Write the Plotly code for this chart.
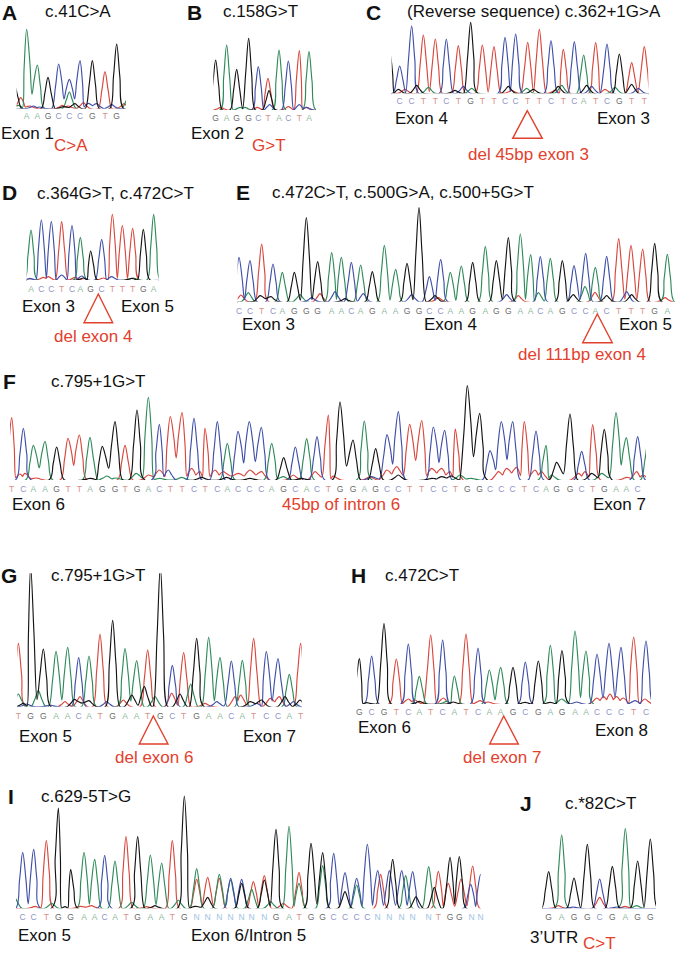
import plotly.graph_objects as go

W, H = 675, 953
COL = {"A": "#2f8a5a", "C": "#3f4fa8", "G": "#141414", "T": "#d8463c"}
LBL = {"A": "#8db89c", "C": "#8e93c6", "G": "#6a6a6a", "T": "#d98f86", "N": "#9cc4e4"}
RED = "#e2412d"

# sequence calls, scan position of each peak, peak height, other-channel signal
A_seq = "AAGCCCGTG"
A_pos = [80, 112, 144, 176, 208, 240, 277, 315, 350]
A_peak = [238, 131, 94, 134, 88, 144, 144, 111, 194]
A_extra = {"G": [(45, 65), (225, 15), (190, 6)], "T": [(62, 33), (90, 8), (187, 10), (205, 8), (250, 18), (372, 15)],
           "A": [(208, 50), (385, 35), (55, 10)], "C": [(100, 8), (120, 5), (265, 16), (290, 15), (335, 12)]}

B_seq = "GAGGCTACTA"
B_pos = [107, 140, 170, 206, 235, 264, 297, 325, 358, 387]
B_peak = [150, 195, 122, 215, 130, 95, 180, 147, 178, 175]
B_extra = {"G": [(267, 58)], "C": [(269, 16), (358, 16), (380, 8)], "T": [(122, 8), (232, 8), (325, 10), (378, 8)],
           "A": [(180, 8), (195, 8)]}

C_seq = "CCTTCTGTTCCTTCTCATCGTT"
C_pos = [74, 110, 145, 181, 214, 250, 287, 322, 357, 390, 422, 458, 493, 528, 565, 598, 626, 662, 696, 733, 770, 808]
C_peak = [82, 202, 175, 163, 163, 143, 213, 145, 140, 168, 178, 153, 192, 158, 132, 155, 115, 152, 148, 118, 92, 140]
C_extra = {"G": [(45, 120), (70, 12), (125, 24), (240, 9), (400, 21), (475, 12), (550, 21), (635, 24), (770, 27)],
           "A": [(160, 18), (290, 15), (455, 15), (560, 24), (720, 18)], "C": [(265, 21), (650, 21), (790, 15)],
           "T": [(90, 12), (410, 9), (540, 9), (690, 12)]}

D_seq = "ACCTCAGCTTTGA"
D_pos = [93, 124, 154, 185, 216, 241, 272, 305, 337, 367, 398, 430, 461]
D_peak = [150, 180, 175, 175, 163, 128, 87, 122, 197, 163, 155, 152, 197]
D_extra = {"T": [(130, 8), (145, 10), (225, 8), (310, 6)], "C": [(90, 5), (185, 15), (245, 12), (335, 10)],
           "G": [(250, 6), (395, 5)], "A": [(400, 6)]}

E_seq = "CCTCAGGGAACAGAAGGCCAAGAGGAACAGCCACTTTGA"
E_pos = [42, 75, 110, 144, 172, 208, 244, 278, 320, 349, 379, 407, 442, 478, 512, 546, 582, 613, 647, 676, 709, 743, 781,
         814, 850, 886, 917, 946, 976, 1012, 1047, 1082, 1111, 1145, 1181, 1218, 1253, 1289, 1327]
E_peak = [133, 123, 173, 113, 88, 88, 252, 120, 147, 133, 118, 110, 90, 169, 97, 115, 282, 75, 127, 88, 107, 118, 166,
          123, 192, 203, 141, 135, 130, 123, 108, 145, 103, 136, 189, 169, 158, 175, 142]
E_extra = {"T": [(48, 20), (285, 24), (640, 12), (880, 18), (1110, 28), (1320, 12)],
           "A": [(70, 27), (225, 21), (940, 27), (1080, 45)],
           "C": [(260, 12), (330, 30), (415, 24), (560, 21), (845, 21), (1205, 30)],
           "G": [(105, 18), (138, 15), (360, 9), (630, 18), (1045, 21), (1145, 18), (1220, 21)]}

F_seq = "TCAAGTTAGGTGACTTCTCACCCAGCACTGGAGCCTTCCTGGCCCTCAGGCTGAAC"
F_pos = [35, 70, 100, 135, 170, 204, 238, 270, 307, 345, 375, 411, 445, 478, 511, 546, 582, 615, 652, 682, 714, 748, 784,
         815, 851, 886, 920, 951, 985, 1020, 1059, 1093, 1127, 1161, 1195, 1229, 1265, 1300, 1334, 1366, 1402, 1439, 1470,
         1504, 1538, 1573, 1608, 1638, 1670, 1710, 1745, 1778, 1813, 1848, 1879, 1913]
F_peak = [187, 155, 104, 116, 99, 125, 135, 128, 101, 175, 104, 210, 248, 167, 190, 202, 185, 155, 175, 110, 146, 175, 158,
          110, 67, 99, 124, 130, 195, 234, 120, 177, 94, 136, 205, 167, 178, 159, 149, 153, 283, 200, 88,
          175, 175, 175, 147, 104, 53, 198, 86, 166, 152, 202, 127, 130]
F_extra = {"T": [(60, 18), (75, 20), (110, 6), (445, 15), (478, 30), (575, 35), (600, 25), (645, 30), (670, 25), (715, 20),
                 (750, 30), (785, 25), (880, 15), (945, 25), (1000, 12), (1110, 10), (1160, 30), (1190, 40), (1295, 35),
                 (1325, 35), (1350, 25), (1495, 25), (1520, 35), (1550, 38), (1605, 30), (1625, 25), (1735, 20), (1755, 25),
                 (1880, 8), (1910, 25), (1930, 15)],
           "G": [(270, 5), (605, 8), (680, 8), (750, 5), (905, 5), (1195, 15), (1295, 5), (1325, 10), (1355, 12), (1775, 20)],
           "A": [(320, 12), (350, 6), (408, 20), (480, 5), (545, 8), (850, 10), (1380, 15), (1415, 5), (1655, 15), (1805, 20),
                 (1945, 120)],
           "C": [(505, 30), (1115, 10)]}

G_seq = "TGGAACATGAATGCTGAACATCCAT"
G_pos = [55, 92, 130, 168, 203, 236, 267, 300, 338, 375, 410, 443, 481, 517, 551, 590, 626, 660, 694, 727, 761, 799, 834, 868, 902]
G_peak = [190, 420, 173, 166, 178, 147, 152, 217, 259, 174, 138, 170, 420, 124, 162, 205, 208, 147, 137, 139, 205, 165, 144, 97, 190]
G_extra = {"A": [(55, 38), (115, 48), (465, 30), (572, 68)],
           "G": [(70, 10), (223, 22), (267, 18), (395, 35), (433, 60), (540, 38), (750, 15), (785, 20), (855, 30), (900, 20)],
           "T": [(195, 15), (240, 30), (370, 20), (515, 40), (615, 10), (705, 30), (722, 35), (810, 25), (838, 30)],
           "C": [(80, 8), (150, 5), (320, 15), (650, 15), (770, 10), (880, 15)]}

H_seq = "GCGTCATCATCAAGCGAGAACCCTC"
H_pos = [58, 95, 132, 169, 205, 238, 272, 308, 343, 378, 414, 448, 482, 519, 556, 595, 631, 666, 705, 738, 771, 807, 843, 881, 918]
H_peak = [136, 144, 241, 135, 180, 83, 207, 192, 84, 210, 168, 102, 110, 110, 126, 129, 176, 160, 219, 159, 150, 182, 170, 201, 189]
H_extra = {"T": [(205, 15), (225, 12), (310, 18), (420, 10), (445, 6), (770, 18), (790, 22), (810, 30), (830, 22), (850, 18), (915, 15)],
           "G": [(80, 4), (238, 8), (340, 6), (555, 5), (630, 5)], "A": [(320, 8), (665, 15)], "C": [(710, 6), (885, 10)]}

I_seq = "CCTGGAACATGAATGNNNNNNNGATGGCCCCNNNNNTGGNN"
I_pos = [68, 101, 139, 175, 212, 252, 284, 314, 345, 378, 413, 451, 485, 517, 553, 590, 623, 658, 692, 725, 755, 793, 828, 867, 897,
         933, 968, 1001, 1035, 1070, 1102, 1133, 1168, 1205, 1238, 1286, 1315, 1350, 1378, 1415, 1442]
I_peak = [168, 177, 203, 301, 117, 168, 147, 159, 142, 215, 215, 160, 136, 203, 337, 0, 0, 0, 0, 0, 0, 0, 237, 246, 108,
          195, 167, 165, 107, 90, 192, 0, 0, 0, 0, 0, 111, 153, 155, 0, 0]
I_extra = {"A": [(45, 30), (155, 15), (395, 18), (535, 25), (590, 119), (658, 102), (692, 85), (755, 57), (812, 20), (897, 75),
                 (968, 128), (1070, 70), (1217, 98), (1286, 125)],
           "T": [(105, 6), (240, 6), (275, 8), (440, 5), (590, 87), (623, 93), (658, 90), (760, 80), (793, 98), (850, 15),
                 (1142, 102), (1345, 75), (1383, 88), (1418, 127)],
           "G": [(195, 5), (465, 8), (585, 6), (623, 33), (725, 75), (793, 85), (1035, 50), (1178, 147), (1248, 35), (1303, 63)],
           "C": [(692, 90), (725, 87), (1133, 113), (1168, 113), (1205, 113), (1238, 110), (1412, 72), (1442, 102)]}

J_seq = "GAGGCGAGG"
J_pos = [176, 215, 252, 292, 329, 367, 406, 443, 481]
J_peak = [110, 220, 91, 192, 88, 126, 239, 142, 208]
J_extra = {"T": [(205, 8), (329, 33), (405, 6)], "C": [(250, 4), (380, 4)], "A": [(440, 8)]}

# name: data, crop left/top, baseline, x-range, y-top, label drop, peak half width, valley share
PANELS = [
    (A_seq, A_pos, A_peak, A_extra, 0, 0, 326, 50, 378, 250, 26, 21, 0.33),
    (B_seq, B_pos, B_peak, B_extra, 180, 0, 330, 100, 408, 230, 27, 20, 0.03),
    (C_seq, C_pos, C_peak, C_extra, 375, 0, 280, 50, 820, 225, 27, 21, 0.03),
    (D_seq, D_pos, D_peak, D_extra, 0, 170, 330, 80, 476, 210, 30, 20, 0.03),
    (E_seq, E_pos, E_peak, E_extra, 225, 170, 395, 38, 1350, 295, 30, 21, 0.05),
    (F_seq, F_pos, F_peak, F_extra, 0, 370, 330, 30, 1938, 295, 30, 23, 0.35),
    (G_seq, G_pos, G_peak, G_extra, 0, 560, 440, 52, 905, 400, 32, 22, 0.12),
    (H_seq, H_pos, H_peak, H_extra, 340, 560, 432, 52, 933, 250, 28, 22, 0.12),
    (I_seq, I_pos, I_peak, I_extra, 0, 780, 385, 48, 1442, 345, 28, 21, 0.08),
    (J_seq, J_pos, J_peak, J_extra, 490, 780, 385, 157, 498, 250, 28, 22, 0.02),
]

LETTERS = [("A", 2, 13), ("B", 187, 13), ("C", 366, 13), ("D", 2, 192.7), ("E", 235.7, 192.7), ("F", 2.7, 381.7),
           ("G", 0.7, 575), ("H", 351, 575), ("I", 8, 796.7), ("J", 520, 803.3)]
BLACK_TEXT = [("c.41C>A", 45, 12), ("c.158G>T", 223, 12), ("(Reverse sequence) c.362+1G>A", 407, 12),
              ("c.364G>T, c.472C>T", 36.7, 193), ("c.472C>T, c.500G>A, c.500+5G>T", 272.3, 192.7),
              ("c.795+1G>T", 50.7, 381.7), ("c.795+1G>T", 50.7, 575), ("c.472C>T", 385, 575),
              ("c.629-5T>G", 40.7, 796.7), ("c.*82C>T", 565, 803),
              ("Exon 1", 1, 133), ("Exon 2", 191, 133), ("Exon 4", 395, 118), ("Exon 3", 597, 118),
              ("Exon 3", 21.7, 306.7), ("Exon 5", 120.7, 306.7), ("Exon 3", 242.3, 324.3), ("Exon 4", 424.3, 324.3),
              ("Exon 5", 619.3, 324.3), ("Exon 6", 11.7, 504), ("Exon 7", 593.3, 504), ("Exon 5", 19, 736),
              ("Exon 7", 242.7, 736), ("Exon 6", 358.3, 727.7), ("Exon 8", 595, 730.7), ("Exon 5", 18.3, 935.7),
              ("Exon 6/Intron 5", 190.7, 935.7), ("3’UTR", 530, 937.3)]
RED_TEXT = [("C>A", 54, 145), ("G>T", 252, 145), ("del 45bp exon 3", 467.7, 154), ("del exon 4", 54, 336),
            ("del 111bp exon 4", 518.3, 354.3), ("45bp of intron 6", 282.3, 504), ("del exon 6", 115, 757.7),
            ("del exon 7", 463.3, 757.7), ("C>T", 583.3, 943)]
TRIANGLES = [(527.3, 110.7, 512.7, 542.3, 138.3), (98.3, 294, 84, 112.7, 322.7), (597.3, 314, 582.7, 612.3, 342.7),
             (153.3, 716, 139.3, 168, 744), (503.7, 716, 489.7, 518.3, 744)]


def channel_curve(peaks, x0, x1, w, share):
    reach = 2 * w
    peaks = sorted(p for p in peaks if p[1] > 0)
    xs, ys = [x0 - 40], [0]
    n = len(peaks)
    for k, (x, h) in enumerate(peaks):
        # foot on the left
        if k > 0 and x - peaks[k - 1][0] <= reach:
            p = peaks[k - 1]
            s = 0.6 if max(h, p[1]) < 50 else share
            lx, lv = (x + p[0]) / 2, s * min(h, p[1])
        else:
            lx, lv = x - w, 0
            xs.append(lx)
            ys.append(0)
        # foot on the right
        if k < n - 1 and peaks[k + 1][0] - x <= reach:
            p = peaks[k + 1]
            s = 0.6 if max(h, p[1]) < 50 else share
            rx, rv = (x + p[0]) / 2, s * min(h, p[1])
        else:
            rx, rv = x + w, 0
        dl = min(0.45 * w, 0.62 * (x - lx))
        dr = min(0.45 * w, 0.62 * (rx - x))
        xs += [x - dl, x, x + dr, rx]
        ys += [lv + 0.5 * (h - lv), h, rv + 0.5 * (h - rv), rv]
    xs.append(x1 + 40)
    ys.append(0)
    return xs, ys


fig = go.Figure()
layout_axes = {}
NP = len(PANELS)
for i, (seq, pos, peak, extra, ox, oy, base, z0, z1, top, drop, w, share) in enumerate(PANELS, start=1):
    sfx = "" if i == 1 else str(i)
    lab = str(i + NP)
    pad = 3
    layout_axes["xaxis" + sfx] = dict(domain=[(ox + z0 / 3) / W, (ox + z1 / 3) / W], range=[z0, z1], visible=False,
                                      anchor="y" + sfx, fixedrange=True)
    layout_axes["yaxis" + sfx] = dict(domain=[1 - (oy + (base + pad) / 3) / H, 1 - (oy + (base - top) / 3) / H],
                                      range=[-pad, top], visible=False, anchor="x" + sfx, fixedrange=True)
    layout_axes["yaxis" + lab] = dict(domain=[1 - (oy + (base + 60) / 3) / H, 1 - (oy + base / 3) / H], range=[-60, 0],
                                      visible=False, anchor="x" + sfx, fixedrange=True)
    for ch in "TACG":
        peaks = [(p, h) for s, p, h in zip(seq, pos, peak) if s == ch] + list(extra.get(ch, []))
        xs, ys = channel_curve(peaks, z0, z1, w, share)
        fig.add_trace(go.Scatter(x=xs, y=ys, mode="lines", xaxis="x" + sfx, yaxis="y" + sfx, showlegend=False,
                                 hoverinfo="skip", line=dict(color=COL[ch], width=1.15, shape="spline", smoothing=1.0)))
    fig.add_trace(go.Scatter(x=pos, y=[-drop] * len(pos), text=list(seq), mode="text", xaxis="x" + sfx, yaxis="y" + lab,
                             showlegend=False, hoverinfo="skip", cliponaxis=False,
                             textfont=dict(family="Liberation Sans", size=8.5, color=[LBL[s] for s in seq])))


def note(text, x, y, size, color, bold=False):
    return dict(text=f"<b>{text}</b>" if bold else text, x=(x - 2) / W, y=1 - y / H, xref="paper", yref="paper", xanchor="left",
                yanchor="middle", showarrow=False, font=dict(family="Liberation Sans", size=size, color=color))


notes = [note(t, x, y, 21, "#111111", True) for t, x, y in LETTERS]
notes += [note(t, x, y, 17, "#111111") for t, x, y in BLACK_TEXT]
notes += [note(t, x, y, 17, RED) for t, x, y in RED_TEXT]
shapes = []
for ax, ay, bl, br, by in TRIANGLES:
    path = f"M {ax/W} {1-ay/H} L {bl/W} {1-by/H} L {br/W} {1-by/H} Z"
    shapes.append(dict(type="path", path=path, xref="paper", yref="paper", line=dict(color=RED, width=1.4)))

fig.update_layout(width=W, height=H, margin=dict(l=0, r=0, t=0, b=0), paper_bgcolor="white", plot_bgcolor="white",
                  annotations=notes, shapes=shapes, showlegend=False, **layout_axes)
fig.write_html("out.html", config={"displayModeBar": False, "responsive": False},
               post_script="document.body.style.margin='0';document.body.style.overflow='hidden';")
